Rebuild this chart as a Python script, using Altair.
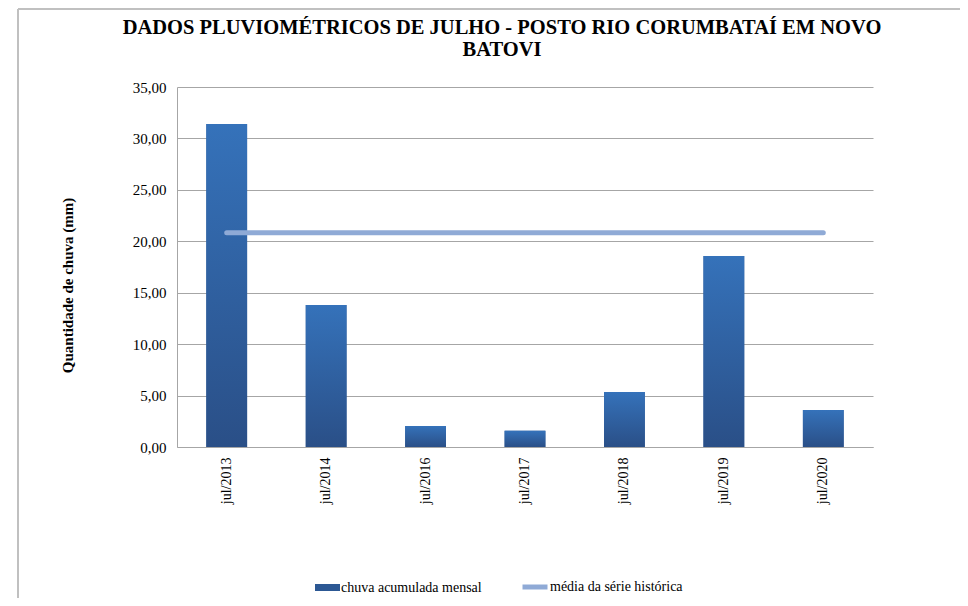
import altair as alt
import pandas as pd

categorias = ["jul/2013", "jul/2014", "jul/2016", "jul/2017", "jul/2018", "jul/2019", "jul/2020"]
chuva_mm = [31.40, 13.80, 2.05, 1.57, 5.35, 18.57, 3.60]
media_historica = [20.83, 20.83, 20.83, 20.83, 20.83, 20.83, 20.83]
serie_barras = "chuva acumulada mensal"
serie_linha = "média da série histórica"
titulo = ["DADOS PLUVIOMÉTRICOS DE JULHO - POSTO RIO CORUMBATAÍ EM NOVO", "BATOVI"]
y_ticks = [0, 5, 10, 15, 20, 25, 30, 35]

df = pd.DataFrame({
    "mes": categorias,
    "chuva": chuva_mm,
    "media": media_historica,
    "s1": serie_barras,
    "s2": serie_linha,
})

FONT = "Liberation Serif"
GRID = "#A6A6A6"

x_enc = alt.X(
    "mes:N", sort=categorias, title=None,
    scale=alt.Scale(paddingInner=0.59, paddingOuter=0.295),
    axis=alt.Axis(labelAngle=-90, labelFont=FONT, labelFontSize=14, labelColor="#000",
                  ticks=False, labelPadding=10, domainColor=GRID, grid=False),
)
y_scale = alt.Scale(domain=[0, 35])
y_axis = alt.Axis(
    values=y_ticks, labelExpr="replace(format(datum.value, '.2f'), '.', ',')",
    labelFont=FONT, labelFontSize=15, labelColor="#000", ticks=False, labelPadding=11,
    grid=True, gridColor=GRID, domainColor=GRID,
    title="Quantidade de chuva (mm)", titleFont=FONT, titleFontSize=15, titleFontWeight="bold",
    titleColor="#000", titleX=-110, titleY=198, titleBaseline="middle", titleAlign="center",
)

gradient = alt.Gradient(
    gradient="linear",
    stops=[alt.GradientStop(color="#2A4F87", offset=0), alt.GradientStop(color="#3572BA", offset=1)],
    x1=0, x2=0, y1=1, y2=0,
)

legend_common = dict(orient="none", title=None, labelFont=FONT, labelFontSize=14, labelColor="#000",
                     padding=0, labelLimit=400)

bars_legend = alt.Chart(df).mark_bar().encode(
    x=x_enc,
    y=alt.Y("chuva:Q", scale=y_scale, axis=y_axis),
    fill=alt.Fill("s1:N", scale=alt.Scale(domain=[serie_barras], range=["#2C5894"]),
                  legend=alt.Legend(legendX=138, legendY=488, symbolType="M-1,-0.28H1V0.28H-1Z",
                                    symbolSize=625, symbolStrokeWidth=0, labelOffset=1,
                                    **legend_common)),
)

bars = alt.Chart(df).mark_bar(fill=gradient).encode(
    x=x_enc,
    y=alt.Y("chuva:Q", scale=y_scale, axis=y_axis),
)

line = alt.Chart(df).mark_line(strokeWidth=5, strokeCap="round").encode(
    x=x_enc,
    y=alt.Y("media:Q", scale=y_scale, axis=y_axis),
    stroke=alt.Stroke("s2:N", scale=alt.Scale(domain=[serie_linha], range=["#8FAAD6"]),
                      legend=alt.Legend(legendX=343, legendY=485, symbolType="stroke",
                                        symbolSize=625, symbolStrokeWidth=5, labelOffset=0,
                                        **legend_common)),
)

border_df = pd.DataFrame({"k": [0]})
border_left = alt.Chart(border_df).mark_rule(color="#C0C0C0", strokeWidth=2).encode(
    x=alt.value(-159), y=alt.value(-78), y2=alt.value(519))
border_top = alt.Chart(border_df).mark_rule(color="#C0C0C0", strokeWidth=2).encode(
    x=alt.value(-159), x2=alt.value(791), y=alt.value(-78))

chart = alt.layer(border_left, border_top, bars_legend, bars, line).properties(
    width=696, height=360,
    padding={"left": 169, "top": 79, "right": 87, "bottom": 151},
    autosize=alt.AutoSizeParams(type="none"),
    title=alt.TitleParams(text=titulo, font=FONT, fontSize=20.5, fontWeight="bold", color="#000",
                          anchor="middle", dx=-23, dy=52, frame="group", offset=0, lineHeight=22),
).configure_view(stroke=None)

chart.save("out.html", embed_options={"renderer": "svg", "actions": False})
